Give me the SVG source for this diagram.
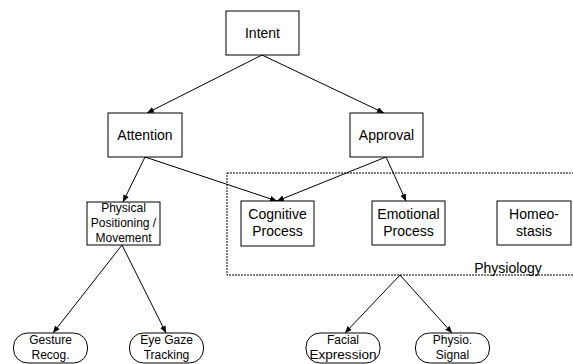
<svg xmlns="http://www.w3.org/2000/svg" width="573" height="364" viewBox="0 0 573 364">
<style>
.box{fill:#fff;stroke:#000;stroke-width:1}
.pill{fill:#fff;stroke:#000;stroke-width:1}
.t{font-family:"Liberation Sans",Arial,sans-serif;font-size:14px;fill:#000;text-anchor:middle}
.s{font-family:"Liberation Sans",Arial,sans-serif;font-size:12px;fill:#000;text-anchor:middle}
.c{fill:none;stroke:#000;stroke-width:1;marker-end:url(#ah)}
.dash{fill:none;stroke:#000;stroke-width:1;stroke-dasharray:2,1}
</style>
<defs>
<marker id="ah" markerUnits="userSpaceOnUse" markerWidth="8" markerHeight="6" refX="7" refY="3" orient="auto">
<path d="M0,0 L7,3 L0,6 Z" fill="#000"/>
</marker>
</defs>
<rect fill="#fff" x="0" y="0" width="573" height="364"/>
<g id="physiology">
<rect class="dash" x="227" y="173" width="350" height="102"/>
<text class="t" x="508" y="273">Physiology</text>
</g>
<g id="connectors">
<line class="c" x1="262" y1="55" x2="147" y2="113"/>
<line class="c" x1="262" y1="55" x2="384" y2="113"/>
<line class="c" x1="145" y1="157" x2="123" y2="202"/>
<line class="c" x1="145" y1="157" x2="277" y2="201"/>
<line class="c" x1="386" y1="157" x2="277" y2="201"/>
<line class="c" x1="386" y1="157" x2="406" y2="201"/>
<line class="c" x1="122" y1="245" x2="53" y2="333"/>
<line class="c" x1="122" y1="245" x2="166" y2="333"/>
<line class="c" x1="400" y1="275" x2="345" y2="333"/>
<line class="c" x1="400" y1="275" x2="452" y2="333"/>
</g>
<g id="intent">
<rect class="box" x="226" y="11" width="73" height="44"/>
<text class="t" x="262.5" y="38">Intent</text>
</g>
<g id="attention">
<rect class="box" x="108" y="113" width="74" height="44"/>
<text class="t" x="145" y="140">Attention</text>
</g>
<g id="approval">
<rect class="box" x="350" y="113" width="73" height="44"/>
<text class="t" x="386.5" y="140">Approval</text>
</g>
<g id="physical">
<rect class="box" x="87" y="202" width="73" height="43"/>
<text class="s" x="123.5" y="212">Physical</text>
<text class="s" x="123.5" y="227">Positioning /</text>
<text class="s" x="123.5" y="242">Movement</text>
</g>
<g id="cognitive">
<rect class="box" x="241" y="201" width="73" height="45"/>
<text class="t" x="277.5" y="219">Cognitive</text>
<text class="t" x="277.5" y="236">Process</text>
</g>
<g id="emotional">
<rect class="box" x="372" y="201" width="73" height="44"/>
<text class="t" x="408.5" y="219">Emotional</text>
<text class="t" x="408.5" y="236">Process</text>
</g>
<g id="homeostasis">
<rect class="box" x="497" y="201" width="74" height="44"/>
<text class="t" x="534" y="219">Homeo-</text>
<text class="t" x="534" y="236">stasis</text>
</g>
<g id="gesture">
<rect class="pill" x="13.5" y="333" width="74" height="30" rx="14" ry="14"/>
<text class="s" x="50.5" y="344">Gesture</text>
<text class="s" x="50.5" y="358.5">Recog.</text>
</g>
<g id="eyegaze">
<rect class="pill" x="129.5" y="333" width="74" height="30" rx="14" ry="14"/>
<text class="s" x="166.5" y="344">Eye Gaze</text>
<text class="s" x="166.5" y="358.5">Tracking</text>
</g>
<g id="facial">
<rect class="pill" x="306" y="333" width="74" height="30" rx="14" ry="14"/>
<text class="s" x="343" y="344">Facial</text>
<text class="s" x="343" y="358.5" textLength="67" lengthAdjust="spacingAndGlyphs">Expression</text>
</g>
<g id="physio">
<rect class="pill" x="415.5" y="333" width="74" height="30" rx="14" ry="14"/>
<text class="s" x="452.5" y="344">Physio.</text>
<text class="s" x="452.5" y="358.5">Signal</text>
</g>
</svg>
